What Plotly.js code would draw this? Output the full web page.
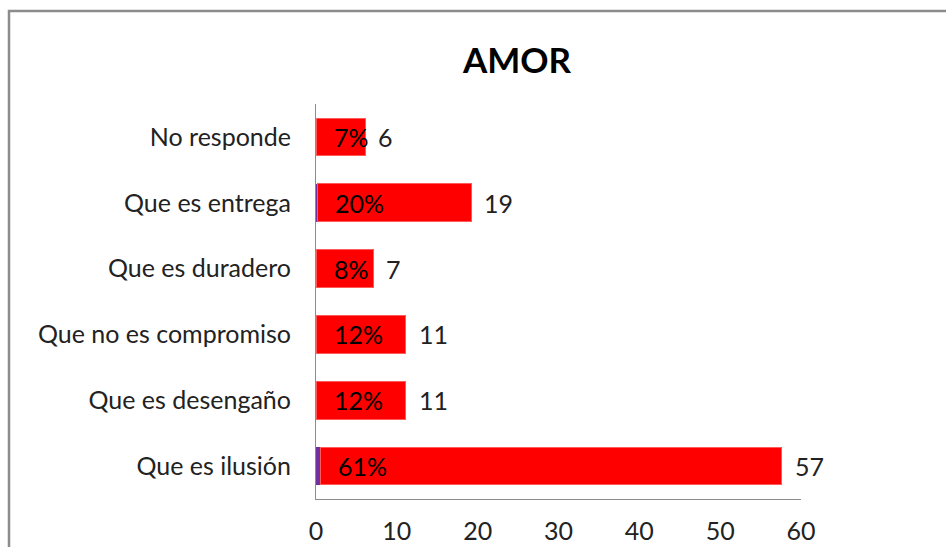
<!DOCTYPE html>
<html>
<head>
<meta charset="utf-8">
<script src="https://cdn.plot.ly/plotly-3.0.1.min.js"></script>
<style>html,body{margin:0;padding:0;background:#fff;overflow:hidden}#chart{width:946px;height:547px}</style>
</head>
<body>
<div id="chart"></div>
<script>
const categories = ["No responde", "Que es entrega", "Que es duradero", "Que no es compromiso", "Que es desengaño", "Que es ilusión"];
const counts = [6, 19, 7, 11, 11, 57];
const shares = [0.07, 0.20, 0.08, 0.12, 0.12, 0.61];
const shareLabels = ["7%", "20%", "8%", "12%", "12%", "61%"];
const xTicks = [0, 10, 20, 30, 40, 50, 60];

const FONT = "Lato, 'Noto Sans', sans-serif";

const traces = [
  {
    type: "bar", orientation: "h", y: categories, x: shares,
    marker: {color: "#7030a0"}, hoverinfo: "skip", showlegend: false
  },
  {
    type: "bar", orientation: "h", y: categories, x: counts,
    marker: {color: "#ff0000", line: {color: "#ff5a5a", width: 1}}, hoverinfo: "skip", showlegend: false
  }
];

const annotations = [];
categories.forEach((c, i) => {
  annotations.push({x: shares[i], y: c, xref: "x", yref: "y", text: shareLabels[i], showarrow: false,
    xanchor: "left", yanchor: "middle", xshift: 15, font: {family: FONT, size: 25, color: "#000"}});
  annotations.push({x: shares[i] + counts[i], y: c, xref: "x", yref: "y", text: String(counts[i]), showarrow: false,
    xanchor: "left", yanchor: "middle", xshift: 11, font: {family: FONT, size: 25, color: "#222"}});
});

const layout = {
  width: 946, height: 547,
  margin: {l: 316, r: 145, t: 104, b: 48},
  paper_bgcolor: "#fff", plot_bgcolor: "#fff",
  barmode: "stack", bargap: 0.43,
  font: {family: FONT, size: 25, color: "#222"},
  title: {text: "<b>AMOR</b>", x: 517/946, xanchor: "center", xref: "container", y: 1 - 61/547, yref: "container", yanchor: "middle",
    font: {family: FONT, size: 35, color: "#000"}},
  xaxis: {range: [0, 60], tickvals: xTicks, ticktext: xTicks.map(String), showgrid: false, zeroline: false,
    showline: true, linecolor: "#8c8c8c", linewidth: 1, ticks: "", ticklabelstandoff: 10,
    tickfont: {family: FONT, size: 25, color: "#222"}, fixedrange: true},
  yaxis: {type: "category", categoryorder: "array", categoryarray: categories, autorange: "reversed",
    showgrid: false, zeroline: false, showline: true, linecolor: "#8c8c8c", linewidth: 1, ticks: "",
    ticklabelstandoff: 19, tickfont: {family: FONT, size: 25, color: "#222"}, fixedrange: true},
  annotations: annotations,
  shapes: [{type: "rect", xref: "paper", yref: "paper", x0: (9 - 316) / 485, x1: 3, y0: -3, y1: (499 - 11) / 395,
    line: {color: "#8c8c8c", width: 2.5}, fillcolor: "rgba(0,0,0,0)", layer: "below"}]
};

Plotly.newPlot("chart", traces, layout, {displayModeBar: false, staticPlot: true});
</script>
</body>
</html>
